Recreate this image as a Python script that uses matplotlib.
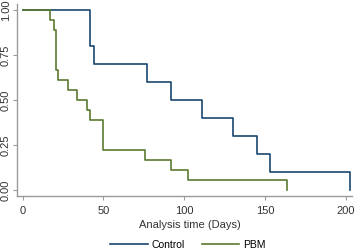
import matplotlib
matplotlib.use("Agg")
import matplotlib.pyplot as plt

plt.rcParams['font.family'] = ['Liberation Sans', 'DejaVu Sans']

# Kaplan-Meier step data
control_days = [0, 42, 44, 77, 92, 111, 130, 145, 153, 203]
control_surv = [1.0, 0.8, 0.7, 0.6, 0.5, 0.4, 0.3, 0.2, 0.1, 0.0]

pbm_days = [0, 17, 19.6, 20.6, 22, 28, 33.5, 40, 42, 50, 76, 92, 102.5, 163.5]
pbm_surv = [1.0, 0.944, 0.889, 0.667, 0.611, 0.556, 0.5, 0.444, 0.389,
            0.222, 0.167, 0.111, 0.056, 0.0]

x_ticks = [0, 50, 100, 150, 200]
y_ticks = [0.0, 0.25, 0.5, 0.75, 1.0]
y_labels = ["0.00", "0.25", "0.50", "0.75", "1.00"]

BLUE = "#1a476f"
GREEN = "#5a7a2e"
GREY = "#9a9a9a"

fig = plt.figure(figsize=(3.58, 2.49), dpi=100)
ax = fig.add_axes([0.0475, 0.213, 0.936, 0.769])

ax.step(control_days, control_surv, where="post", color=BLUE, lw=1.2, label="Control", zorder=2)
ax.step(pbm_days, pbm_surv, where="post", color=GREEN, lw=1.2, label="PBM", zorder=3)

ax.set_xlim(-3.5, 204)
ax.set_ylim(-0.033, 1.03)
ax.set_xticks(x_ticks)
ax.set_yticks(y_ticks)
ax.set_yticklabels(y_labels, rotation=90, va="center")
ax.tick_params(colors=GREY, labelcolor="#333333", labelsize=8, length=3, width=0.8)
ax.tick_params(axis="y", pad=1.5)
ax.tick_params(axis="x", pad=4)

for side in ["top", "right"]:
    ax.spines[side].set_visible(False)
for side in ["left", "bottom"]:
    ax.spines[side].set_color(GREY)
    ax.spines[side].set_linewidth(1.0)

ax.set_xlabel("Analysis time (Days)", fontsize=8, color="#333333")
ax.xaxis.set_label_coords((190 - 17) / 335, -0.125)

fig.legend(loc="lower center", bbox_to_anchor=(0.525, -0.04), ncol=2, frameon=False,
           fontsize=7.5, handlelength=3.6, columnspacing=1.6, handletextpad=0.4)

fig.savefig("out.png", dpi=100)
